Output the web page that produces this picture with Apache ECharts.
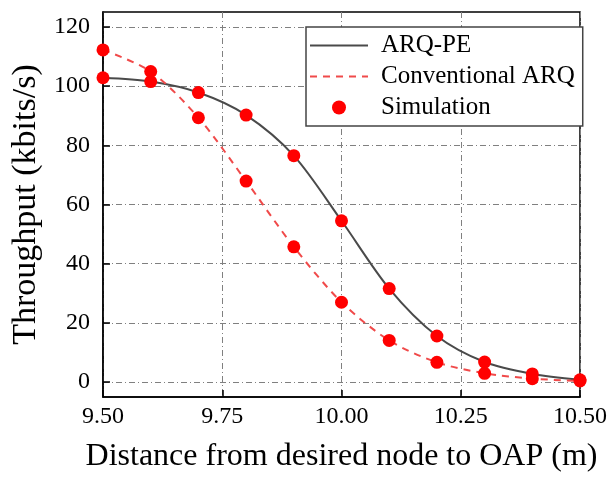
<!DOCTYPE html>
<html>
<head>
<meta charset="utf-8">
<script src="https://cdn.jsdelivr.net/npm/echarts@6/dist/echarts.min.js"></script>
<style>html,body{margin:0;padding:0;background:#fff}#c{width:610px;height:478px}</style>
</head>
<body>
<div id="c"></div>
<script>
const distances = [9.5, 9.6, 9.7, 9.8, 9.9, 10.0, 10.1, 10.2, 10.3, 10.4, 10.5];
const arqPe = [102.8, 101.5, 97.8, 90.2, 76.5, 54.5, 31.6, 15.6, 6.8, 2.8, 0.8];
const conventionalArq = [112.2, 104.9, 89.3, 67.9, 45.7, 27.0, 14.1, 6.7, 3.0, 1.2, 0.4];
const yTicks = [0, 20, 40, 60, 80, 100, 120];
const seriesNames = ['ARQ-PE', 'Conventional ARQ', 'Simulation'];

const pair = (xs, ys) => xs.map((x, i) => [x, ys[i]]);
const simPoints = pair(distances, arqPe).concat(pair(distances, conventionalArq));

const font = 'Liberation Serif';
const gridLine = { show: true, lineStyle: { color: '#808080', width: 1, type: [6, 3, 1, 3] } };

const chart = echarts.init(document.getElementById('c'), null, { renderer: 'canvas' });
chart.setOption({
  animation: false,
  backgroundColor: '#fff',
  grid: { left: 103, right: 29, top: 12, bottom: 81, show: true, borderColor: '#000', borderWidth: 1.5, backgroundColor: 'transparent' },
  legend: {
    data: seriesNames,
    orient: 'vertical',
    left: 306, top: 27,
    itemWidth: 58, itemHeight: 14, itemGap: 6,
    padding: [6, 8, 6, 3],
    borderColor: '#444', borderWidth: 1.5,
    backgroundColor: '#fff',
    textStyle: { fontFamily: font, fontSize: 25, color: '#000', padding: [0, 0, 0, 8] }
  },
  xAxis: {
    type: 'value', min: 9.5, max: 10.5, interval: 0.25,
    name: 'Distance from desired node to OAP (m)', nameLocation: 'middle', nameGap: 44,
    nameTextStyle: { fontFamily: font, fontSize: 32, color: '#000' },
    axisLine: { show: true, onZero: false, lineStyle: { color: '#000', width: 1.5 } },
    axisTick: { show: true, inside: true, length: 7, lineStyle: { color: '#000', width: 1.5 } },
    axisLabel: { fontFamily: font, fontSize: 24, color: '#000', margin: 8, formatter: v => v.toFixed(2) },
    splitLine: gridLine
  },
  yAxis: {
    type: 'value', min: -5, max: 125,
    name: 'Throughput (kbits/s)', nameLocation: 'middle', nameGap: 60,
    nameTextStyle: { fontFamily: font, fontSize: 34, color: '#000' },
    axisLine: { show: true, onZero: false, lineStyle: { color: '#000', width: 1.5 } },
    axisTick: { show: true, inside: true, length: 7, customValues: yTicks, lineStyle: { color: '#000', width: 1.5 } },
    axisLabel: { fontFamily: font, fontSize: 24, color: '#000', margin: 13, customValues: yTicks },
    splitLine: gridLine
  },
  series: [
    {
      name: seriesNames[0], type: 'line', data: pair(distances, arqPe), symbol: 'none', smooth: 0.3,
      lineStyle: { color: '#4a4a4a', width: 2, opacity: 1 }, itemStyle: { color: '#4a4a4a', opacity: 0 }, z: 3
    },
    {
      name: seriesNames[1], type: 'line', data: pair(distances, conventionalArq), symbol: 'none', smooth: 0.3,
      lineStyle: { color: '#f04a4a', width: 2, type: [7, 6], opacity: 1 }, itemStyle: { color: '#f04a4a', opacity: 0 }, z: 3
    },
    {
      name: seriesNames[2], type: 'scatter', data: simPoints, symbol: 'circle', symbolSize: 13, clip: false,
      itemStyle: { color: '#ff0000', opacity: 1 }, z: 4
    }
  ]
});
</script>
</body>
</html>
